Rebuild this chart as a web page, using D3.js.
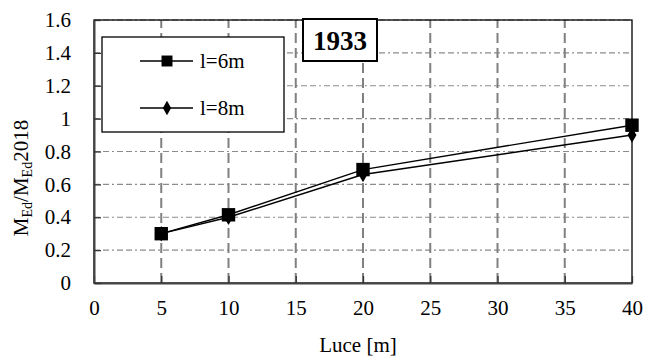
<!DOCTYPE html>
<html>
<head>
<meta charset="utf-8">
<script src="https://cdn.jsdelivr.net/npm/d3@7"></script>
<style>
  body{margin:0;background:#fff;}
</style>
</head>
<body>
<div id="graphique"></div>
<script>
// data
const luce=[5,10,20,40];
const l6=[0.30,0.415,0.69,0.96];
const l8=[0.30,0.40,0.66,0.90];
const seriesNames=["l=6m","l=8m"];
const xTicks=[0,5,10,15,20,25,30,35,40];
const yTicks=[0,0.2,0.4,0.6,0.8,1,1.2,1.4,1.6];
const title="1933";

const width=646,height=358;
const m={left:94,right:14,top:20,bottom:75};
const svg=d3.select("#graphique").append("svg")
    .attr("width",width).attr("height",height)
    .attr("font-family","Liberation Serif");

const x=d3.scaleLinear().domain([0,40]).range([m.left,width-m.right]);
const y=d3.scaleLinear().domain([0,1.6]).range([height-m.bottom,m.top]);

// grid
const grid=svg.append("g");
grid.selectAll("line.h").data(yTicks.slice(1))
    .enter().append("line").classed("h",true)
    .attr("x1",x(0)).attr("x2",x(40)).attr("y1",d=>y(d)).attr("y2",d=>y(d))
    .attr("stroke","#8c8c8c").attr("stroke-width",1.2)
    .attr("stroke-dasharray","6,3,6,3,2,3");
grid.selectAll("line.v").data(xTicks.slice(1,-1))
    .enter().append("line").classed("v",true)
    .attr("x1",d=>x(d)).attr("x2",d=>x(d)).attr("y1",y(0)).attr("y2",y(1.6))
    .attr("stroke","#808080").attr("stroke-width",2)
    .attr("stroke-dasharray","10,5");

// frame (top/right)
svg.append("rect")
    .attr("x",x(0)).attr("y",y(1.6)).attr("width",x(40)-x(0)).attr("height",y(0)-y(1.6))
    .attr("fill","none").attr("stroke","#000").attr("stroke-width",1.3);

// axes
const x_axis=d3.axisBottom(x).tickValues(xTicks).tickSizeInner(-7).tickSizeOuter(0)
    .tickPadding(20).tickFormat(d3.format("d"));
const gx=svg.append("g").attr("transform","translate(0,"+y(0)+")").call(x_axis);
const y_axis=d3.axisLeft(y).tickValues(yTicks).tickSizeInner(-7).tickSizeOuter(0)
    .tickPadding(24).tickFormat(d=>String(d));
const gy=svg.append("g").attr("transform","translate("+x(0)+",0)").call(y_axis);
[gx,gy].forEach(g=>{
    g.attr("font-family","Liberation Serif");
    g.select(".domain").attr("stroke","#444").attr("stroke-width",2);
    g.selectAll(".tick line").attr("stroke","#333").attr("stroke-width",1.3);
    g.selectAll(".tick text").attr("font-size",21).attr("fill","#000");
});
gx.selectAll(".tick text").attr("dy","0.55em");
gy.selectAll(".tick text").attr("x",-23);

// axis titles
svg.append("text").attr("x",358).attr("y",352).attr("text-anchor","middle")
    .attr("font-size",21).text("Luce [m]");
const yl=svg.append("text").attr("transform","translate(28,178) rotate(-90)")
    .attr("text-anchor","middle").attr("font-size",21);
yl.append("tspan").text("M");
yl.append("tspan").attr("font-size",14).attr("dy",4).text("Ed");
yl.append("tspan").attr("dy",-4).text("/M");
yl.append("tspan").attr("font-size",14).attr("dy",4).text("Ed");
yl.append("tspan").attr("dy",-4).text("2018");

// series
const line=d3.line().x(d=>x(d[0])).y(d=>y(d[1]));
const sq=d3.symbol().type(d3.symbolSquare).size(180);
const dia=d3.symbol().type(d3.symbolDiamond).size(70);
const series=[{name:seriesNames[0],vals:l6,sym:sq},{name:seriesNames[1],vals:l8,sym:dia}];
series.slice().reverse().forEach(s=>{
    const pts=luce.map((v,i)=>[v,s.vals[i]]);
    svg.append("path").attr("d",line(pts)).attr("fill","none")
        .attr("stroke","#000").attr("stroke-width",1.4);
    svg.selectAll(null).data(pts).enter().append("path")
        .attr("d",s.sym).attr("transform",d=>"translate("+x(d[0])+","+y(d[1])+")")
        .attr("fill","#000");
});

// legend
const lg=svg.append("g");
lg.append("rect").attr("x",102).attr("y",37).attr("width",182).attr("height",95)
    .attr("fill","#fff").attr("stroke","#000").attr("stroke-width",1.3);
series.forEach((s,i)=>{
    const ly=61+i*47;
    lg.append("line").attr("x1",140).attr("x2",193).attr("y1",ly).attr("y2",ly)
        .attr("stroke","#000").attr("stroke-width",1.4);
    lg.append("path").attr("d",i==0?d3.symbol().type(d3.symbolSquare).size(120)():d3.symbol().type(d3.symbolDiamond).size(60)())
        .attr("transform","translate(167,"+ly+")").attr("fill","#000");
    lg.append("text").attr("x",200).attr("y",ly+7).attr("font-size",21).text(s.name);
});

// title box
svg.append("rect").attr("x",303).attr("y",19).attr("width",74).attr("height",42)
    .attr("fill","#fff").attr("stroke","#000").attr("stroke-width",2);
svg.append("text").attr("x",340).attr("y",50).attr("text-anchor","middle")
    .attr("font-size",27).attr("font-weight","bold").text(title);

svg.selectAll("text").style("font-family","'Liberation Serif'");
</script>
</body>
</html>
